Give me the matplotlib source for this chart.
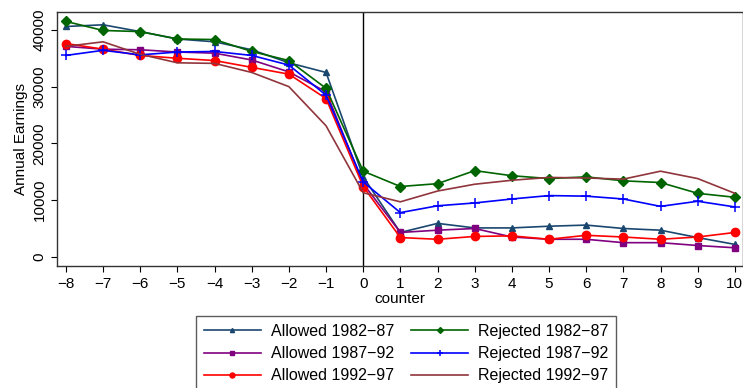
import matplotlib
matplotlib.use("Agg")
import matplotlib.pyplot as plt

# --- Data ---
counter = list(range(-8, 11))

allowed_8287 = [40600, 40900, 39700, 38400, 37900, 36500, 34200, 32500, 14100,
                4300, 5900, 5100, 5100, 5400, 5600, 5000, 4700, 3400, 2200]
allowed_8792 = [37100, 36600, 36500, 36100, 35900, 34700, 32600, 29100, 12900,
                4300, 4700, 5000, 3500, 3100, 3100, 2500, 2500, 2000, 1600]
allowed_9297 = [37600, 36600, 35500, 35000, 34600, 33400, 32200, 27900, 12400,
                3400, 3100, 3600, 3700, 3100, 3800, 3500, 3100, 3500, 4300]
rejected_8287 = [41500, 39900, 39700, 38400, 38300, 36200, 34600, 29700, 15100,
                 12400, 12900, 15200, 14300, 13800, 14100, 13400, 13100, 11200, 10500]
rejected_8792 = [35500, 36400, 35600, 36100, 36200, 35500, 33800, 28500, 13200,
                 7800, 9000, 9500, 10200, 10800, 10700, 10200, 8900, 9800, 8800]
rejected_9297 = [37100, 37900, 35700, 34200, 34100, 32500, 30000, 23100, 11300,
                 9700, 11600, 12800, 13500, 14000, 13900, 13700, 15100, 13800, 11200]

yticks = [0, 10000, 20000, 30000, 40000]

plt.rcParams["font.family"] = ["Liberation Sans", "DejaVu Sans"]

# --- Figure ---
fig = plt.figure(figsize=(7.43, 3.88), dpi=100)
ax = fig.add_axes([0.0767, 0.314, 0.9233, 0.655])

ax.axvline(0, color="black", lw=1.0, zorder=1)

ax.plot(counter, allowed_8287, color="#1a476f", marker="^", ms=5, lw=1.2,
        label="Allowed 1982\u221287")
ax.plot(counter, allowed_8792, color="#800080", marker="s", ms=4.5, lw=1.2,
        label="Allowed 1987\u221292")
ax.plot(counter, allowed_9297, color="#ff0000", marker="o", ms=6, lw=1.2,
        label="Allowed 1992\u221297")
ax.plot(counter, rejected_8287, color="#006400", marker="D", ms=5, lw=1.2,
        label="Rejected 1982\u221287")
ax.plot(counter, rejected_8792, color="#0000ff", marker="+", ms=7, mew=1.1, lw=1.2,
        label="Rejected 1987\u221292")
ax.plot(counter, rejected_9297, color="#90353b", lw=1.2,
        label="Rejected 1992\u221297")

ax.set_xlim(-8.24, 10.22)
ax.set_ylim(-1640, 43150)
ax.set_xticks(counter)
ax.set_xticklabels([str(c).replace("-", "\u2212") for c in counter], fontsize=11)
ax.set_yticks(yticks)
ax.set_yticklabels([str(v) for v in yticks], rotation=90, va="center", fontsize=11)
ax.tick_params(direction="out", length=4, width=0.8, colors="black")

for s in ax.spines.values():
    s.set_color("#333333")
    s.set_linewidth(1.0)

ax.set_xlabel("counter", fontsize=11, labelpad=1)
ax.set_ylabel("Annual Earnings", fontsize=11, labelpad=3)

leg = fig.legend(loc="upper left", bbox_to_anchor=(0.2634, 0.1856), ncol=2,
                 fontsize=11.5, frameon=True, fancybox=False, handlelength=3.6,
                 handletextpad=0.6, columnspacing=1.05, labelspacing=0.45,
                 borderpad=0.5, markerscale=0.6, borderaxespad=0)
leg.get_frame().set_edgecolor("#333333")
leg.get_frame().set_linewidth(1.0)

fig.savefig("out.png", dpi=100)
